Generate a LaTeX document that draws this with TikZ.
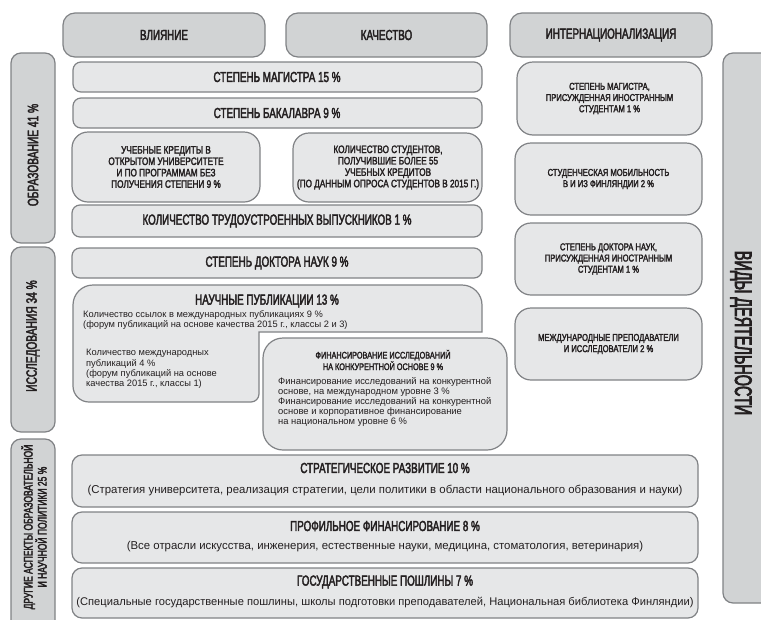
\documentclass[tikz,border=0pt]{standalone}
\usepackage{fontspec}
\setmainfont{Liberation Sans}
\newfontfamily\hd{Liberation Sans}[FakeStretch=0.68, FakeBold=2.5]
\newfontfamily\hds{Liberation Sans}[FakeStretch=0.76, FakeBold=2.2]
\newfontfamily\hdc{Liberation Sans}[FakeStretch=0.6, FakeBold=3]
\definecolor{dk}{HTML}{D1D3D4}
\definecolor{lt}{HTML}{E6E7E8}
\definecolor{ln}{HTML}{808285}
\definecolor{tx}{HTML}{231F20}
\tikzset{
 hdr/.style={draw=ln, fill=dk, line width=1.2pt, rounded corners=12pt},
 tabbox/.style={draw=ln, fill=dk, line width=1.2pt, rounded corners=10pt},
 box/.style={draw=ln, fill=lt, line width=1.2pt, rounded corners=8pt},
 rbox/.style={draw=ln, fill=lt, line width=1.2pt, rounded corners=16pt},
 htxt/.style={font=\hd\fontsize{14.5}{15}\selectfont, text=tx, inner sep=0pt},
 ttxt/.style={font=\hd\fontsize{15}{16}\selectfont, text=tx, inner sep=0pt},
 stxt/.style={font=\hds\fontsize{10.8}{11.4}\selectfont, text=tx, align=center, inner sep=0pt},
 itxt/.style={font=\hds\fontsize{10}{11.2}\selectfont, text=tx, align=center, inner sep=0pt},
 btxt/.style={font=\fontsize{9.3}{10.4}\selectfont, text=tx, align=left, inner sep=0pt},
 dtxt/.style={font=\fontsize{11.4}{12}\selectfont, text=tx, inner sep=0pt},
}
\begin{document}
\begin{tikzpicture}[x=1pt,y=-1pt]
\useasboundingbox (0,0) rectangle (761,619);
\clip (0,0) rectangle (761,619);
% headers
\path[hdr] (63,13) rectangle (265,57);
\path[hdr] (286,13) rectangle (487,57);
\path[hdr] (510,13) rectangle (712,57);
\node[htxt] (h1) at (164,35) {ВЛИЯНИЕ};
\node[htxt] (h2) at (386.5,35) {КАЧЕСТВО};
\node[htxt] (h3) at (611,35) {ИНТЕРНАЦИОНАЛИЗАЦИЯ};
% side tabs
\path[tabbox] (11,53) rectangle (55,243);
\path[tabbox] (11,247) rectangle (55,432);
\path[tabbox] (11,439) rectangle (55,650);
\path[tabbox] (723,53) rectangle (790,603);
\node[ttxt, rotate=90] (t1) at (33,155) {ОБРАЗОВАНИЕ 41 \%};
\node[ttxt, rotate=90] (t2) at (33,336) {ИССЛЕДОВАНИЯ 34 \%};
\node[stxt, rotate=90, font=\hd\fontsize{12.5}{14}\selectfont] (t3) at (34,527) {ДРУГИЕ АСПЕКТЫ ОБРАЗОВАТЕЛЬНОЙ\\И НАУЧНОЙ ПОЛИТИКИ 25 \%};
\node[htxt, rotate=-90, font=\hdc\fontsize{24}{26}\selectfont] (t4) at (741,333) {ВИДЫ ДЕЯТЕЛЬНОСТИ};
% education
\path[box] (73,62) rectangle (482,92);
\node[htxt] (e1) at (277,77) {СТЕПЕНЬ МАГИСТРА 15 \%};
\path[box] (73,98) rectangle (482,128);
\node[htxt] (e2) at (277,113) {СТЕПЕНЬ БАКАЛАВРА 9 \%};
\path[rbox] (72,132) rectangle (260,202);
\node[stxt] (e3) at (166,167) {УЧЕБНЫЕ КРЕДИТЫ В\\ОТКРЫТОМ УНИВЕРСИТЕТЕ\\И ПО ПРОГРАММАМ БЕЗ\\ПОЛУЧЕНИЯ СТЕПЕНИ 9 \%};
\path[rbox] (293,133) rectangle (482,202);
\node[stxt] (e4) at (388,167.5) {КОЛИЧЕСТВО СТУДЕНТОВ,\\ПОЛУЧИВШИЕ БОЛЕЕ 55\\УЧЕБНЫХ КРЕДИТОВ\\(ПО ДАННЫМ ОПРОСА СТУДЕНТОВ В 2015 Г.)};
\path[box] (72,205) rectangle (482,237);
\node[htxt] (e5) at (277,221) {КОЛИЧЕСТВО ТРУДОУСТРОЕННЫХ ВЫПУСКНИКОВ 1 \%};
% research
\path[box] (72,248) rectangle (482,278);
\node[htxt] (r1) at (277,263) {СТЕПЕНЬ ДОКТОРА НАУК 9 \%};
\path[draw=ln, fill=lt, line width=1.2pt]
  (160,402) [rounded corners=16pt] -- (73,402) [rounded corners=20pt] -- (73,285) -- (482,285)
  [sharp corners] -- (482,332) -- (259,332) [rounded corners=8pt] -- (259,402) -- cycle;
\node[htxt] (r2) at (267,301) {НАУЧНЫЕ ПУБЛИКАЦИИ 13 \%};
\node[btxt, anchor=north west] (r3) at (83,310) {Количество ссылок в международных публикациях 9 \%\\(форум публикаций на основе качества 2015 г., классы 2 и 3)};
\node[btxt, anchor=north west] (r4) at (86,349) {Количество международных\\публикаций 4 \%\\(форум публикаций на основе\\качества 2015 г., классы 1)};
\path[draw=ln, fill=lt, line width=1.2pt, rounded corners=20pt] (263,338) rectangle (507,450);
\node[stxt, font=\hds\fontsize{9.6}{11.5}\selectfont] (r5) at (383,360) {ФИНАНСИРОВАНИЕ ИССЛЕДОВАНИЙ\\НА КОНКУРЕНТНОЙ ОСНОВЕ 9 \%};
\node[btxt, anchor=north west, font=\fontsize{9.4}{10.2}\selectfont] (r6) at (278,377) {Финансирование исследований на конкурентной\\основе, на международном уровне 3 \%\\Финансирование исследований на конкурентной\\основе и корпоративное финансирование\\на национальном уровне 6 \%};
% internationalisation
\path[rbox] (517,62) rectangle (702,135);
\node[itxt] (i1) at (609.5,98.5) {СТЕПЕНЬ МАГИСТРА,\\ПРИСУЖДЕННАЯ ИНОСТРАННЫМ\\СТУДЕНТАМ 1 \%};
\path[rbox] (515,143) rectangle (702,215);
\node[itxt] (i2) at (608.5,179) {СТУДЕНЧЕСКАЯ МОБИЛЬНОСТЬ\\В И ИЗ ФИНЛЯНДИИ 2 \%};
\path[rbox] (515,223) rectangle (702,295);
\node[itxt] (i3) at (608.5,259) {СТЕПЕНЬ ДОКТОРА НАУК,\\ПРИСУЖДЕННАЯ ИНОСТРАННЫМ\\СТУДЕНТАМ 1 \%};
\path[rbox] (515,308) rectangle (702,380);
\node[itxt] (i4) at (608.5,344) {МЕЖДУНАРОДНЫЕ ПРЕПОДАВАТЕЛИ\\И ИССЛЕДОВАТЕЛИ 2 \%};
% other aspects
\path[box, rounded corners=10pt] (72,455) rectangle (698,507);
\node[htxt] (o1) at (385,468) {СТРАТЕГИЧЕСКОЕ РАЗВИТИЕ 10 \%};
\node[dtxt] (o2) at (385,490) {(Стратегия университета, реализация стратегии, цели политики в области национального образования и науки)};
\path[box, rounded corners=10pt] (72,512) rectangle (698,563);
\node[htxt] (o3) at (385,526) {ПРОФИЛЬНОЕ ФИНАНСИРОВАНИЕ 8 \%};
\node[dtxt] (o4) at (385,547) {(Все отрасли искусства, инженерия, естественные науки, медицина, стоматология, ветеринария)};
\path[box, rounded corners=10pt] (72,568) rectangle (698,618);
\node[htxt] (o5) at (385,582) {ГОСУДАРСТВЕННЫЕ ПОШЛИНЫ 7 \%};
\node[dtxt, font=\fontsize{11.15}{12}\selectfont] (o6) at (385,603) {(Специальные государственные пошлины, школы подготовки преподавателей, Национальная библиотека Финляндии)};
\end{tikzpicture}
\end{document}
